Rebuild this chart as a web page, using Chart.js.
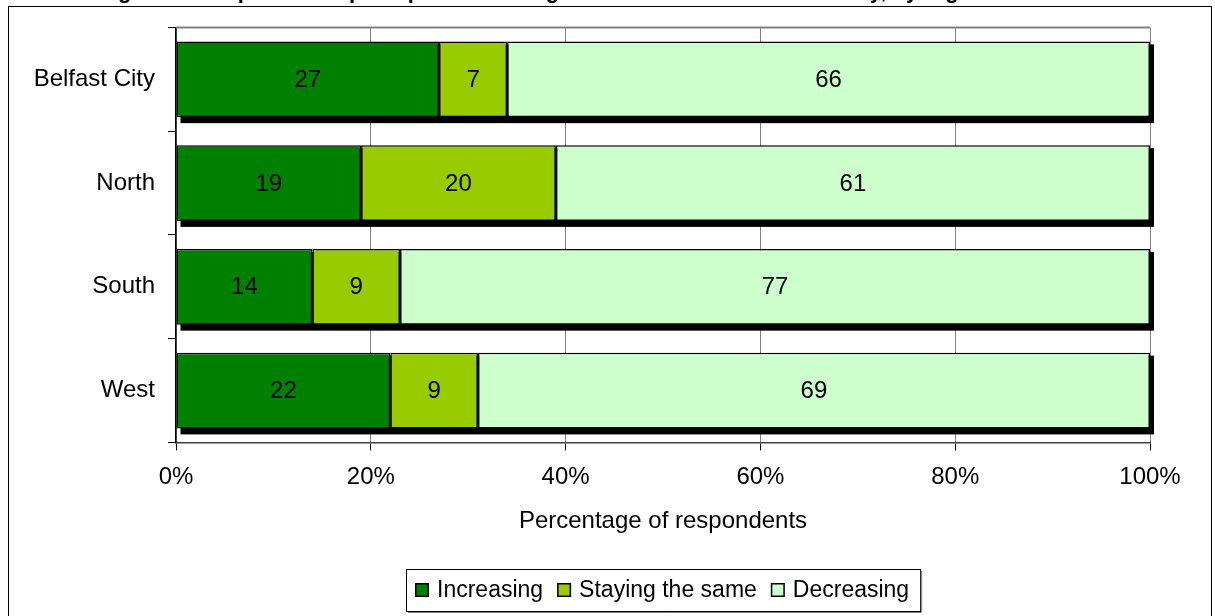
<!DOCTYPE html>
<html><head><meta charset="utf-8">
<script src="https://cdn.jsdelivr.net/npm/chart.js@4/dist/chart.umd.min.js"></script>
<style>html,body{margin:0;padding:0;background:#fff}#wrap{position:relative;width:1215px;height:616px}</style>
</head><body><div id="wrap"><canvas id="c" width="1215" height="616"></canvas></div>
<script>
const categories = ['Belfast City', 'North', 'South', 'West'];
const seriesNames = ['Increasing', 'Staying the same', 'Decreasing'];
const increasing = [27, 19, 14, 22];
const stayingSame = [7, 20, 9, 9];
const decreasing = [66, 61, 77, 69];
const xTickValues = [0, 20, 40, 60, 80, 100];
const xAxisTitle = 'Percentage of respondents';
const titleText = 'Figure 4: Respondents\u2019 perception of change in crime levels in Belfast City, by region';
const seriesColors = ['#008000', '#99CC00', '#CCFFCC'];

const FONT = 'Liberation Sans, Arial, sans-serif';

const bgPlugin = {
  id: 'bg',
  beforeDraw(chart) {
    const ctx = chart.ctx;
    ctx.save();
    ctx.fillStyle = '#fff';
    ctx.fillRect(0, 0, chart.width, chart.height);
    ctx.strokeStyle = '#000';
    ctx.lineWidth = 1;
    ctx.strokeRect(8.5, 6.5, chart.width - 12, chart.height + 20);
    // title clipped by the top edge: only descenders remain visible
    ctx.beginPath();
    ctx.rect(0, 0, chart.width, 6);
    ctx.clip();
    ctx.fillStyle = '#000';
    ctx.font = 'bold 22px ' + FONT;
    ctx.textAlign = 'center';
    ctx.textBaseline = 'alphabetic';
    ctx.fillText(titleText, 545, -2);
    ctx.restore();
  }
};

const shadowPlugin = {
  id: 'shadow',
  beforeDatasetsDraw(chart) {
    const ctx = chart.ctx;
    const a = chart.chartArea;
    ctx.save();
    ctx.strokeStyle = '#808080';
    ctx.lineWidth = 2;
    ctx.beginPath();
    ctx.moveTo(a.left, a.top);
    ctx.lineTo(a.right, a.top);
    ctx.stroke();
    const first = chart.getDatasetMeta(0).data;
    const last = chart.getDatasetMeta(chart.data.datasets.length - 1).data;
    ctx.fillStyle = '#000';
    for (let i = 0; i < first.length; i++) {
      const f = first[i], l = last[i];
      const left = Math.min(f.base, f.x);
      const right = l.x;
      const h = f.height;
      ctx.fillRect(left + 4, f.y - h / 2 + 3, right - left, h + 3);
    }
    ctx.restore();
  }
};

const labelPlugin = {
  id: 'labels',
  afterDatasetsDraw(chart) {
    const ctx = chart.ctx;
    ctx.save();
    ctx.fillStyle = '#000';
    ctx.font = '24px ' + FONT;
    ctx.textAlign = 'center';
    ctx.textBaseline = 'middle';
    chart.data.datasets.forEach((ds, di) => {
      chart.getDatasetMeta(di).data.forEach((el, i) => {
        const cx = (el.x + el.base) / 2;
        ctx.fillText(String(ds.data[i]), cx, el.y + 1);
      });
    });
    ctx.restore();
  }
};

const legendPlugin = {
  id: 'customLegend',
  afterDraw(chart) {
    const ctx = chart.ctx;
    const a = chart.chartArea;
    ctx.save();
    ctx.font = '23px ' + FONT;
    ctx.textBaseline = 'middle';
    const box = 14, gapBoxText = 8, gapItems = 14, padL = 9, padR = 11;
    const items = chart.data.datasets.map(d => ({ label: d.label, color: d.backgroundColor, w: ctx.measureText(d.label).width }));
    let total = padL + padR;
    items.forEach((it, i) => { total += box + gapBoxText + it.w + (i < items.length - 1 ? gapItems : 0); });
    const cx = (a.left + a.right) / 2;
    const x0 = Math.round(cx - total / 2);
    const top = 569, h = 42;
    ctx.strokeStyle = '#000';
    ctx.lineWidth = 1;
    ctx.strokeRect(x0 + 0.5, top + 0.5, total, h);
    ctx.strokeStyle = '#808080';
    ctx.beginPath();
    ctx.moveTo(x0 + total + 1.5, top + 2);
    ctx.lineTo(x0 + total + 1.5, top + h + 1.5);
    ctx.lineTo(x0 + 2, top + h + 1.5);
    ctx.stroke();
    let x = x0 + padL;
    const cy = top + h / 2;
    items.forEach(it => {
      ctx.fillStyle = it.color;
      ctx.fillRect(x, cy - box / 2, box, box);
      ctx.strokeStyle = '#000';
      ctx.lineWidth = 1.5;
      ctx.strokeRect(x + 0.75, cy - box / 2 + 0.75, box - 1.5, box - 1.5);
      x += box + gapBoxText;
      ctx.fillStyle = '#000';
      ctx.fillText(it.label, x, cy + 1);
      x += it.w + gapItems;
    });
    ctx.restore();
  }
};

const seriesData = [increasing, stayingSame, decreasing];

new Chart(document.getElementById('c'), {
  type: 'bar',
  data: {
    labels: categories,
    datasets: seriesNames.map((name, i) => ({
      label: name,
      data: seriesData[i],
      backgroundColor: seriesColors[i],
      borderColor: '#000',
      borderWidth: 1.5,
      borderSkipped: false,
      categoryPercentage: 1,
      barPercentage: 0.73
    }))
  },
  options: {
    indexAxis: 'y',
    responsive: false,
    animation: false,
    devicePixelRatio: 1,
    layout: { padding: { left: 10, right: 65, top: 25, bottom: 61 } },
    plugins: { legend: { display: false }, tooltip: { enabled: false } },
    scales: {
      x: {
        stacked: true,
        min: 0, max: 100,
        afterBuildTicks(scale) { scale.ticks = xTickValues.map(v => ({ value: v })); },
        ticks: { callback: v => v + '%', font: { family: FONT, size: 24 }, color: '#000', padding: 13, maxRotation: 0 },
        grid: { color: '#808080', lineWidth: 1, tickLength: 8, tickColor: '#000' },
        border: { color: '#404040', width: 1.5 },
        title: { display: true, text: xAxisTitle, font: { family: FONT, size: 24 }, color: '#000', padding: { top: 2, bottom: 19 } }
      },
      y: {
        stacked: true,
        afterFit(scale) { scale.width = 166; },
        ticks: { font: { family: FONT, size: 24 }, color: '#000', padding: 13 },
        grid: { drawOnChartArea: false, tickLength: 8, color: '#000', offset: true },
        border: { color: '#000', width: 1.5 }
      }
    }
  },
  plugins: [bgPlugin, shadowPlugin, labelPlugin, legendPlugin]
});
</script></body></html>
